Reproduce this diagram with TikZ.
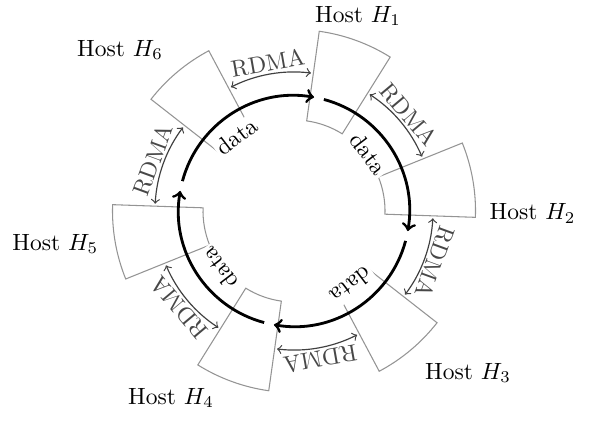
\documentclass[tikz,border=0pt]{standalone}
\usetikzlibrary{calc}
\begin{document}
\begin{tikzpicture}[x=0.4255pt,y=0.4255pt,
  sectorline/.style={draw=black!42, line width=0.45pt},
  dataarrow/.style={->, line width=1.2pt, black},
  rdmaarrow/.style={<->, line width=0.5pt, black!75},
  rdmalabel/.style={text=black!72, inner sep=0pt},
  datalabel/.style={fill=white, inner sep=1pt},
  hostlabel/.style={inner sep=0pt}]
\useasboundingbox (0,0) rectangle (596,421);
\coordinate (C) at (294,210);
\begin{scope}[shift={(C)}]
  % host sectors
  \foreach \a/\b [count=\k] in {58/82, -2/22, -62/-38, -122/-98, -182/-158, 118/142} {
    \draw[sectorline] (\a:91) coordinate (s\k)
      arc[start angle=\a, end angle=\b, radius=91]
      -- (\b:181.5)
      arc[start angle=\b, end angle=\a, radius=181.5] -- cycle;
  }
  % data ring
  \foreach \a/\b/\m/\r [count=\k] in {165/80/127.5/37.5, 75/-10/37.5/-52.5, -15/-100/-52.5/-142.5, -105/-190/-142.5/127.5} {
    \coordinate (ds\k) at (\a:115.5);
    \draw[dataarrow] (ds\k) arc[start angle=\a, end angle=\b, radius=115.5];
    \node[datalabel, rotate=\r] (d\k) at (\m:94) {data};
  }
  % RDMA links
  \foreach \a/\b/\m/\r [count=\k] in {117/83/100/10, 57/23/40/-50, -3/-37/-20/-110, -63/-97/-80/-170, -123/-157/-140/130, 177/143/160/70} {
    \coordinate (rs\k) at (\a:139);
    \draw[rdmaarrow] (rs\k) arc[start angle=\a, end angle=\b, radius=139];
    \node[rdmalabel, rotate=\r] (r\k) at (\m:150) {RDMA};
  }
\end{scope}
\node[hostlabel] (h1) at (358,405) {Host $H_1$};
\node[hostlabel] (h2) at (532.5,207.5) {Host $H_2$};
\node[hostlabel] (h3) at (468,48) {Host $H_3$};
\node[hostlabel] (h4) at (171,23) {Host $H_4$};
\node[hostlabel] (h5) at (55.3,177) {Host $H_5$};
\node[hostlabel] (h6) at (120,371) {Host $H_6$};
\end{tikzpicture}
\end{document}
